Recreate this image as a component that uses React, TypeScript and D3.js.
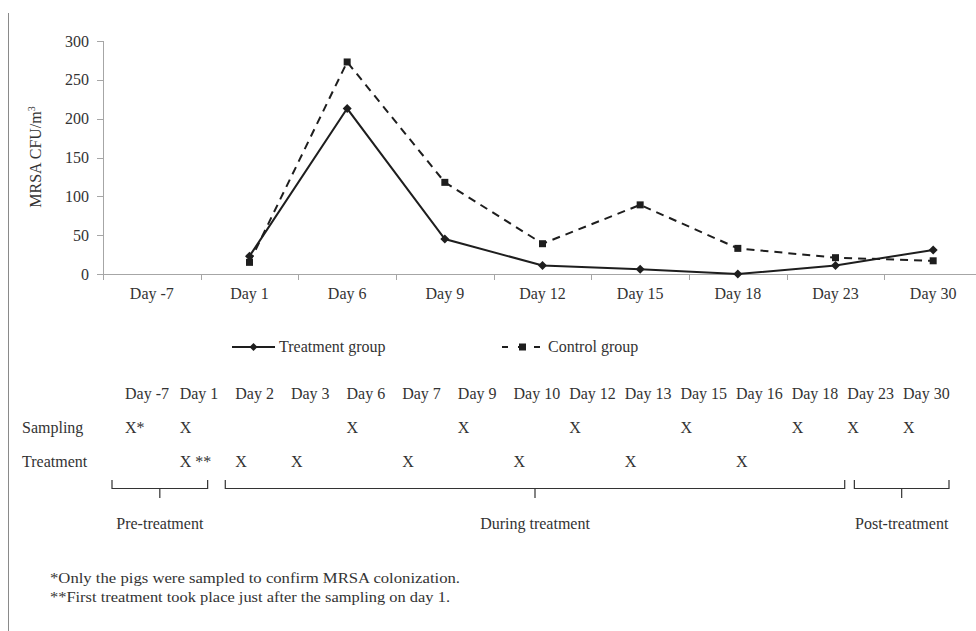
import React from 'react';
import * as d3 from 'd3';

const days = ['Day -7', 'Day 1', 'Day 6', 'Day 9', 'Day 12', 'Day 15', 'Day 18', 'Day 23', 'Day 30'];
// null = not sampled
const treatment = [null, 23, 213, 45, 11, 6, 0, 11, 31];
const control = [null, 15, 273, 118, 39, 89, 33, 21, 17];
const yTicks = [0, 50, 100, 150, 200, 250, 300];

const scheduleDays = ['Day -7', 'Day 1', 'Day 2', 'Day 3', 'Day 6', 'Day 7', 'Day 9', 'Day 10', 'Day 12', 'Day 13', 'Day 15', 'Day 16', 'Day 18', 'Day 23', 'Day 30'];
const samplingMarks = ['X*', 'X', '', '', 'X', '', 'X', '', 'X', '', 'X', '', 'X', 'X', 'X'];
const treatmentMarks = ['', 'X **', 'X', 'X', '', 'X', '', 'X', '', 'X', '', 'X', '', '', ''];

const phases = [
  { label: 'Pre-treatment', from: 'Day -7', to: 'Day 1' },
  { label: 'During treatment', from: 'Day 2', to: 'Day 18' },
  { label: 'Post-treatment', from: 'Day 23', to: 'Day 30' },
];

const footnotes = [
  '*Only the pigs were sampled to confirm MRSA colonization.',
  '**First treatment took place just after the sampling on day 1.',
];

const W = 976;
const H = 631;
const font = '"Liberation Serif", "Times New Roman", serif';
const ink = '#1e1e1e';
const textInk = '#333';
const axisGray = '#a6a6a6';

export default function App() {
  const x = d3.scaleBand().domain(days).range([103, 982]);
  const y = d3.scaleLinear().domain([0, 300]).range([274, 41]);
  const cx = (d: string) => (x(d) as number) + x.bandwidth() / 2;

  const line = d3.line<number | null>()
    .defined(d => d !== null)
    .x((_, i) => cx(days[i]))
    .y(d => y(d as number));

  // schedule columns (text is left aligned on a tab grid)
  const col = d3.scalePoint().domain(scheduleDays).range([124, 903]);
  const colX = (d: string) => col(d) as number;

  const diamond = (px: number, py: number, r = 4.5) =>
    `M${px},${py - r}L${px + r},${py}L${px},${py + r}L${px - r},${py}Z`;

  // brace extents relative to the column grid
  const braceStart = (d: string, i: number) => colX(d) - (i === 0 ? 12 : 10) + (i === 2 ? 17 : 0);
  const braceEnd = (d: string, i: number) => (i === 2 ? 949 : colX(d) + (i === 0 ? 28 : 53));

  return (
    <svg width={W} height={H} style={{ position: 'absolute', left: 0, top: 0, background: '#fff' }}
      fontFamily={font} fontSize={16} fill={ink}>
      <line x1={8.5} x2={8.5} y1={13} y2={H} stroke="#8a8a8a" strokeWidth={1} />

      {/* y axis */}
      <line x1={103.5} x2={103.5} y1={y(300)} y2={y(0)} stroke={axisGray} />
      {yTicks.map(t => (
        <g key={t}>
          <line x1={97} x2={103.5} y1={Math.round(y(t)) + 0.5} y2={Math.round(y(t)) + 0.5} stroke={axisGray} />
          <text x={89} y={y(t)} dy="0.35em" textAnchor="end" fill={textInk}>{t}</text>
        </g>
      ))}
      <text transform={`translate(41,157) rotate(-90)`} textAnchor="middle" fill={textInk}>
        MRSA CFU/m<tspan fontSize={10} dy={-6}>3</tspan>
      </text>

      {/* x axis */}
      <line x1={103} x2={W} y1={274.5} y2={274.5} stroke={axisGray} />
      {days.map(d => (
        <g key={d}>
          <line x1={Math.round(x(d) as number) + 0.5} x2={Math.round(x(d) as number) + 0.5} y1={274.5} y2={280} stroke={axisGray} />
          <text x={cx(d)} y={299} textAnchor="middle" fill={textInk}>{d}</text>
        </g>
      ))}

      {/* series */}
      <path d={line(control) as string} fill="none" stroke={ink} strokeWidth={2} strokeDasharray="8,6" />
      <path d={line(treatment) as string} fill="none" stroke={ink} strokeWidth={2} />
      {control.map((v, i) => v === null ? null : (
        <rect key={'c' + i} x={cx(days[i]) - 3.5} y={y(v) - 3.5} width={7} height={7} fill={ink} />
      ))}
      {treatment.map((v, i) => v === null ? null : (
        <path key={'t' + i} d={diamond(cx(days[i]), y(v))} fill={ink} />
      ))}

      {/* legend */}
      <line x1={232} x2={275} y1={347} y2={347} stroke={ink} strokeWidth={2} />
      <path d={diamond(253.5, 347, 4)} fill={ink} />
      <text x={279} y={352} fill={textInk}>Treatment group</text>
      <line x1={502} x2={545} y1={347} y2={347} stroke={ink} strokeWidth={2} strokeDasharray="6,10" />
      <rect x={519} y={343.5} width={7} height={7} fill={ink} />
      <text x={548} y={352} fill={textInk}>Control group</text>

      {/* schedule table */}
      {scheduleDays.map((d, i) => (
        <g key={d}>
          <text x={colX(d) + (i === 0 ? 1 : 0)} y={399} fill={textInk}>{d}</text>
          {samplingMarks[i] && <text x={colX(d) + (i === 0 ? 1 : 0)} y={433} fill={textInk}>{samplingMarks[i]}</text>}
          {treatmentMarks[i] && <text x={colX(d)} y={467} fill={textInk}>{treatmentMarks[i]}</text>}
        </g>
      ))}
      <text x={22} y={433} fill={textInk}>Sampling</text>
      <text x={22} y={467} fill={textInk}>Treatment</text>

      {/* phase braces */}
      {phases.map((p, i) => {
        const x0 = braceStart(p.from, i);
        const x1 = braceEnd(p.to, i);
        const m = (x0 + x1) / 2;
        return (
          <g key={p.label}>
            <path d={`M${x0},480V488.5H${x1}V480M${m},488.5V498`} fill="none" stroke={textInk} strokeWidth={1.2} />
            <text x={m} y={529} textAnchor="middle" fill={textInk}>{p.label}</text>
          </g>
        );
      })}

      {/* footnotes */}
      {footnotes.map((f, i) => (
        <text key={i} x={50} y={583 + i * 19} fill={textInk} fontSize={15.5}
          textLength={i === 0 ? 410 : 400} lengthAdjust="spacingAndGlyphs">{f}</text>
      ))}
    </svg>
  );
}
